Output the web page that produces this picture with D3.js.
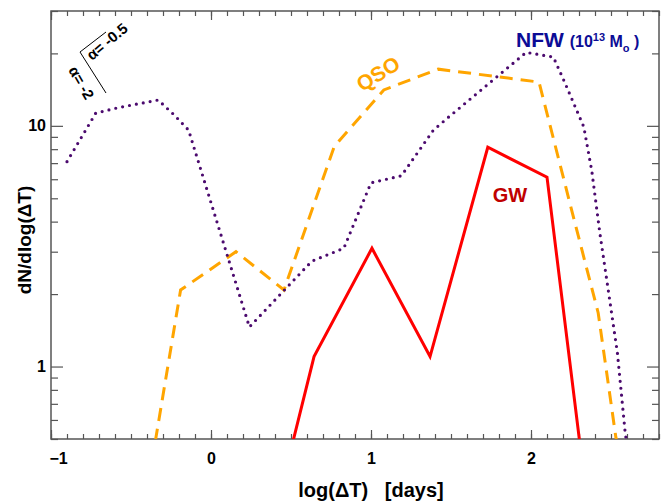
<!DOCTYPE html>
<html lang="en">
<head>
    <meta charset="UTF-8">
    <title>dN/dlog(dT)</title>
    <style type="text/css">
        body { margin: 0; background: #fff; }
        svg { font-family: "Liberation Sans", Arial, sans-serif; font-weight: bold; }
        .axis path { display: none; }
        .axis line { stroke: #555; stroke-width: 1.2; }
        .axis text { fill: #000; font-size: 16px; font-weight: bold; font-family: "Liberation Sans", Arial, sans-serif; }
    </style>
</head>
<body>

<svg width="669" height="502"></svg>

<script src="https://d3js.org/d3.v7.min.js"></script>

<script>
    // NFW halo (dotted purple)
    var nfwX = [-0.9, -0.72, -0.58, -0.33, -0.23, -0.14, 0.24, 0.63, 0.83, 1.0, 1.19, 1.39, 1.48, 1.97, 2.14, 2.21, 2.33, 2.38, 2.43, 2.48, 2.54, 2.59, 2.62];
    var nfwY = [7.1, 11.3, 11.9, 12.8, 11.1, 9.6, 1.46, 2.74, 3.1, 5.8, 6.2, 9.6, 10.8, 20.2, 19.3, 15.2, 9.9, 6.5, 3.6, 2.14, 1.14, 0.52, 0.42];

    // QSO (dashed orange)
    var qsoX = [-0.37, -0.19, 0.156, 0.456, 0.77, 1.08, 1.42, 2.05, 2.27, 2.42, 2.53, 2.56];
    var qsoY = [0.4, 2.08, 3.0, 2.08, 8.2, 14.1, 17.2, 15.2, 4.06, 1.67, 0.51, 0.42];

    // GW (solid red)
    var gwX = [0.48, 0.644, 1.006, 1.369, 1.73, 2.1, 2.32];
    var gwY = [0.4, 1.10, 3.1, 1.10, 8.15, 6.12, 0.4];

    var xMajor = [-1, 0, 1, 2];
    var xMinor = d3.range(-10, 29).map(function (i) { return i / 10; });
    var yMajor = [1, 10];
    var yMinor = [0.5, 0.6, 0.7, 0.8, 0.9, 2, 3, 4, 5, 6, 7, 8, 9, 20, 30];

    var svg = d3.select("svg"),
            margin = {top: 11, right: 10, bottom: 63, left: 51},
            width = svg.attr("width") - margin.left - margin.right,
            height = svg.attr("height") - margin.top - margin.bottom,
            g = svg.append("g").attr("transform", "translate(" + margin.left + "," + margin.top + ")");

    var x = d3.scaleLinear()
            .domain([-1, 2.8])
            .range([0, width]);

    var y = d3.scaleLog()
            .domain([0.5, 30])
            .range([height, 0]);

    // ticks point inward on all four sides
    g.append("g").attr("class", "axis").attr("transform", "translate(0," + height + ")")
            .call(d3.axisBottom(x).tickValues(xMinor).tickSize(-5).tickFormat(""));
    g.append("g").attr("class", "axis").attr("transform", "translate(0," + height + ")")
            .call(d3.axisBottom(x).tickValues(xMajor).tickSize(-9).tickPadding(14).tickFormat(d3.format("d")))
            .selectAll("text").attr("dx", function (d) { return d < 0 ? 7 : 0; });
    g.append("g").attr("class", "axis")
            .call(d3.axisTop(x).tickValues(xMinor).tickSize(-5).tickFormat(""));
    g.append("g").attr("class", "axis")
            .call(d3.axisTop(x).tickValues(xMajor).tickSize(-9).tickFormat(""));

    g.append("g").attr("class", "axis")
            .call(d3.axisLeft(y).tickValues(yMinor).tickSize(-7).tickFormat(""));
    g.append("g").attr("class", "axis")
            .call(d3.axisLeft(y).tickValues(yMajor).tickSize(-12).tickPadding(5).tickFormat(d3.format("d")));
    g.append("g").attr("class", "axis").attr("transform", "translate(" + width + ",0)")
            .call(d3.axisRight(y).tickValues(yMinor).tickSize(-7).tickFormat(""));
    g.append("g").attr("class", "axis").attr("transform", "translate(" + width + ",0)")
            .call(d3.axisRight(y).tickValues(yMajor).tickSize(-12).tickFormat(""));

    // frame
    g.append("rect")
            .attr("width", width)
            .attr("height", height)
            .style("fill", "none")
            .style("stroke", "#555")
            .style("stroke-width", 1.5);

    g.append("clipPath").attr("id", "clip")
            .append("rect").attr("width", width).attr("height", height);

    var line = d3.line()
            .x(function (d) { return x(d[0]); })
            .y(function (d) { return y(d[1]); });

    var plot = g.append("g").attr("clip-path", "url(#clip)");

    plot.append("path")
            .datum(d3.zip(qsoX, qsoY))
            .attr("d", line)
            .style("fill", "none")
            .style("stroke", "#ffa500")
            .style("stroke-width", 3)
            .style("stroke-dasharray", "13 8");

    plot.append("path")
            .datum(d3.zip(nfwX, nfwY))
            .attr("d", line)
            .style("fill", "none")
            .style("stroke", "#4b0a6e")
            .style("stroke-width", 3.2)
            .style("stroke-linecap", "round")
            .style("stroke-dasharray", "0 7");

    plot.append("path")
            .datum(d3.zip(gwX, gwY))
            .attr("d", line)
            .style("fill", "none")
            .style("stroke", "#ff0000")
            .style("stroke-width", 3)
            .style("stroke-linejoin", "miter");

    // labels
    svg.append("text")
            .attr("transform", "translate(382,80) rotate(-32)")
            .attr("text-anchor", "middle")
            .style("font-size", "21px")
            .style("fill", "#ffa500")
            .text("QSO");

    svg.append("text")
            .attr("x", 510).attr("y", 202)
            .attr("text-anchor", "middle")
            .style("font-size", "20px")
            .style("fill", "#c00000")
            .text("GW");

    var nfw = svg.append("text")
            .attr("x", 516).attr("y", 47)
            .style("fill", "#0c0c96");
    nfw.append("tspan").style("font-size", "21px").text("NFW ");
    nfw.append("tspan").style("font-size", "16px").text("(10");
    nfw.append("tspan").style("font-size", "11px").attr("dy", -6).text("13");
    nfw.append("tspan").style("font-size", "16px").attr("dy", 6).text(" M");
    nfw.append("tspan").style("font-size", "11px").attr("dy", 5).text("o");
    nfw.append("tspan").style("font-size", "16px").attr("dy", -5).text(" )");

    // slope guide
    svg.append("path")
            .attr("d", "M106,32 L80,52 L106,93")
            .style("fill", "none")
            .style("stroke", "#000")
            .style("stroke-width", 1);
    svg.append("text")
            .attr("transform", "translate(92,61) rotate(-40)")
            .style("font-size", "15px")
            .text("\u03b1= -0.5");
    svg.append("text")
            .attr("transform", "translate(68,70) rotate(60)")
            .style("font-size", "15px")
            .text("\u03b1= -2");

    // axis titles
    svg.append("text")
            .attr("x", 371).attr("y", 497)
            .attr("text-anchor", "middle")
            .style("font-size", "20px")
            .attr("xml:space", "preserve")
            .text("log(\u0394T)   [days]");

    svg.append("text")
            .attr("transform", "translate(31,240) rotate(-90)")
            .attr("text-anchor", "middle")
            .style("font-size", "19px")
            .text("dN/dlog(\u0394T)");
</script>

</body>
</html>
